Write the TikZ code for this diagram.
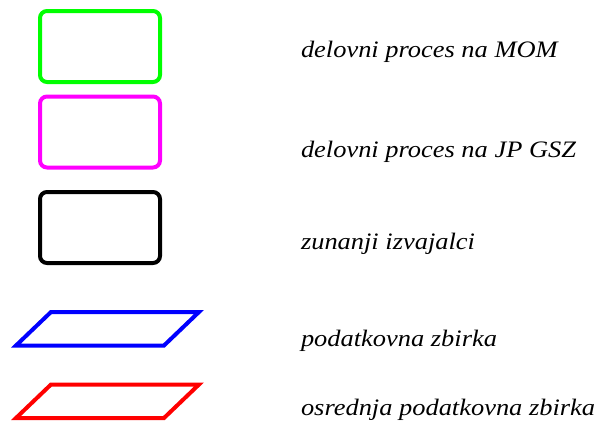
\documentclass[tikz,border=0pt]{standalone}
\usepackage{fontspec}
\setmainfont{Liberation Serif}
\usepackage{tikz}

\definecolor{momgreen}{RGB}{0,255,0}
\definecolor{gszpink}{RGB}{255,0,255}
\definecolor{zbblue}{RGB}{0,0,255}
\definecolor{zbred}{RGB}{255,0,0}
\newcommand{\legwide}[1]{\scalebox{1.12}[1]{#1}}

\begin{document}
\begin{tikzpicture}[x=1pt, y=-1pt, line width=4pt,
    proc/.style={draw=#1, rounded corners=7pt, minimum width=120pt, minimum height=71pt, inner sep=0pt},
    legtext/.style={anchor=base west, inner sep=0pt, font=\fontsize{23.6}{28}\selectfont\itshape}]
    \useasboundingbox (0, 0) rectangle (600, 423);

    % draw process boxes
    \node[proc=momgreen] (mom) at (100, 46.5) {};
    \node[proc=gszpink] (gsz) at (100, 132) {};
    \node[proc=black] (zun) at (100, 227.5) {};

    % draw data collections
    \draw[color=zbblue, line join=miter] (16, 345.5) -- (51, 312) -- (199, 312) -- (164, 345.5) -- cycle;
    \draw[color=zbred, line join=miter] (16, 418) -- (51, 384.5) -- (199, 384.5) -- (164, 418) -- cycle;

    % draw legend texts
    \node[legtext] (tmom) at (299, 57.5) {\legwide{delovni proces na MOM}};
    \node[legtext] (tgsz) at (299, 157) {\legwide{delovni proces na JP GSZ}};
    \node[legtext] (tzun) at (299, 249) {\legwide{zunanji izvajalci}};
    \node[legtext] (tpod) at (299, 346) {\legwide{podatkovna zbirka}};
    \node[legtext] (tosr) at (299, 415) {\legwide{osrednja podatkovna zbirka}};

\end{tikzpicture}
\end{document}
